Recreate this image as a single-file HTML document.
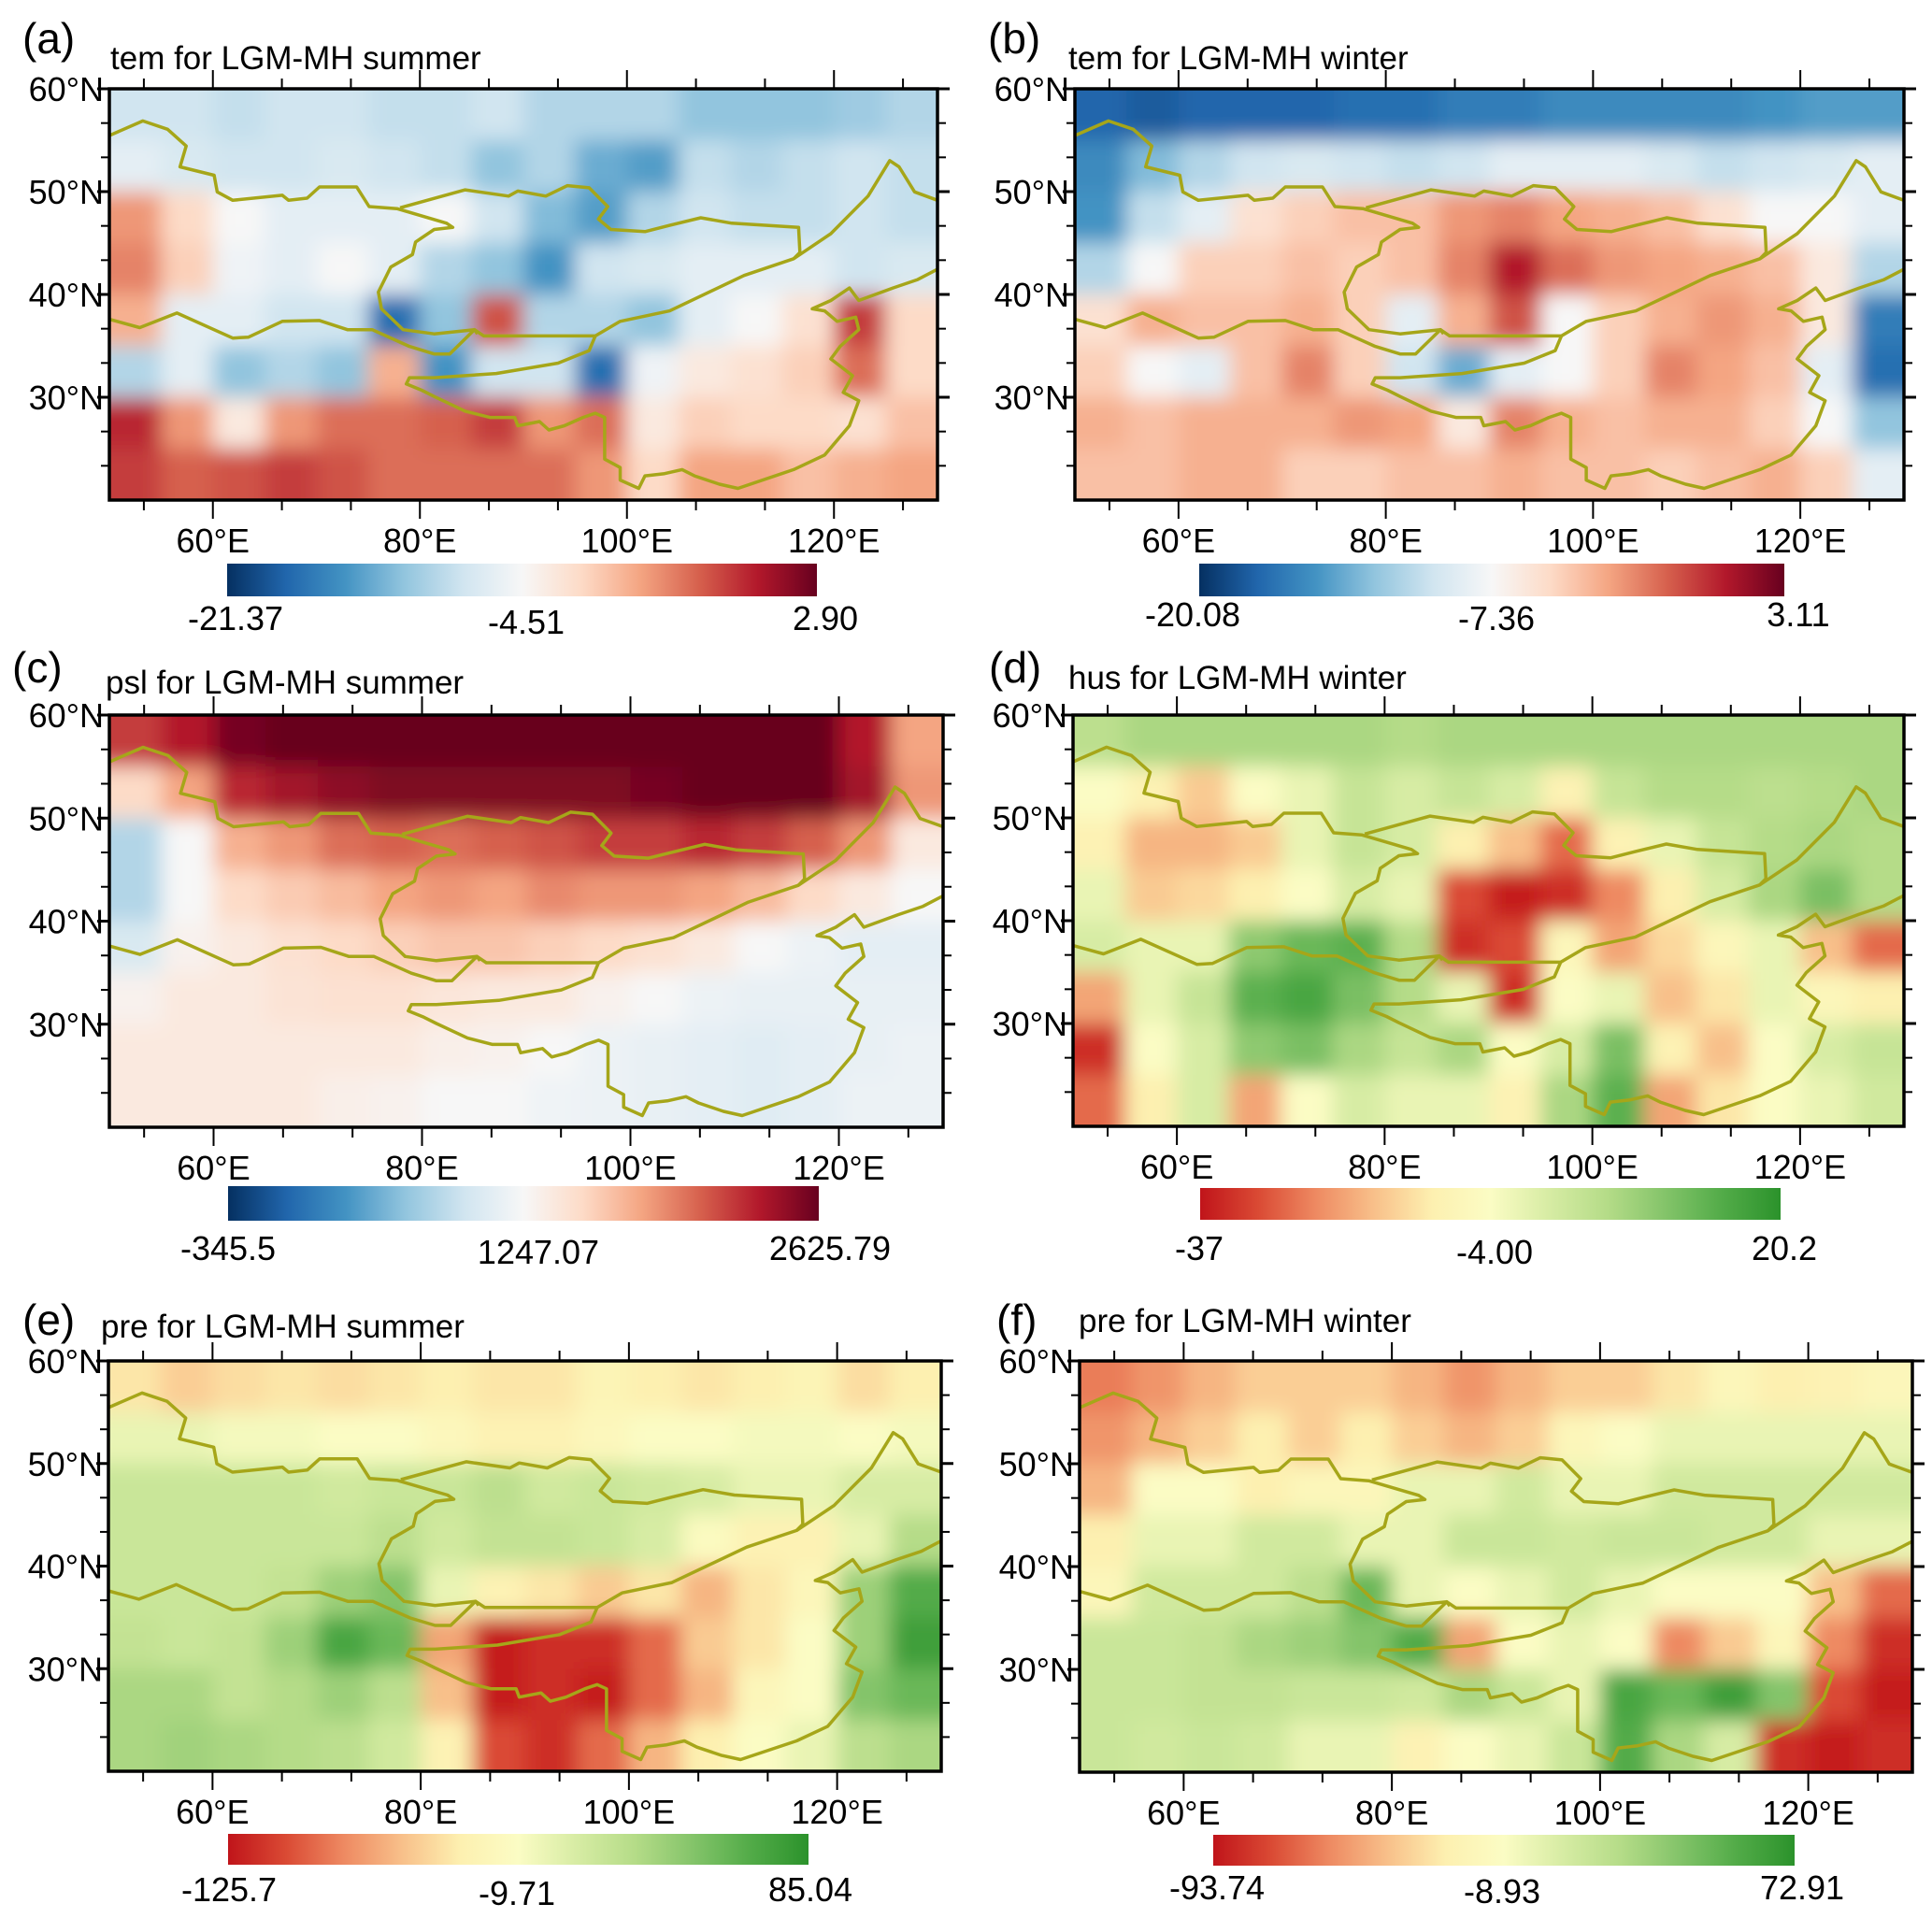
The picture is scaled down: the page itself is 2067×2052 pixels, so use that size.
<!DOCTYPE html>
<html><head><meta charset="utf-8">
<style>
html,body{margin:0;padding:0;background:#fff;}
svg{display:block;font-family:"Liberation Sans",Arial,sans-serif;}
</style></head>
<body>
<svg id="fig" width="2067" height="2052" viewBox="0 0 2067 2052" xmlns="http://www.w3.org/2000/svg">
<defs>
<filter id="blur" x="-10%" y="-10%" width="120%" height="120%"><feGaussianBlur stdDeviation="11"/></filter>
</defs>
</svg>
<script>
// ---- data: gridded anomaly (colormap position 0..1), rows 60N->20N (5° bands), cols 50E->130E (5° bands)
const lonTicks = [60, 80, 100, 120];
const latTicks = [60, 50, 40, 30];
const lonTickLabels = ["60°E", "80°E", "100°E", "120°E"];
const latTickLabels = ["60°N", "50°N", "40°N", "30°N"];

const gridA = [
[0.4,0.4,0.38,0.4,0.4,0.38,0.38,0.4,0.35,0.35,0.35,0.3,0.3,0.3,0.32,0.35],
[0.45,0.42,0.4,0.4,0.42,0.4,0.38,0.3,0.35,0.25,0.22,0.38,0.35,0.38,0.4,0.38],
[0.72,0.6,0.5,0.45,0.45,0.45,0.5,0.4,0.28,0.22,0.35,0.4,0.38,0.38,0.4,0.38],
[0.75,0.62,0.48,0.45,0.5,0.45,0.35,0.3,0.2,0.4,0.42,0.45,0.45,0.45,0.4,0.42],
[0.68,0.45,0.45,0.4,0.4,0.12,0.3,0.82,0.35,0.35,0.3,0.45,0.5,0.58,0.85,0.6],
[0.35,0.45,0.3,0.35,0.3,0.68,0.2,0.4,0.4,0.12,0.48,0.55,0.58,0.62,0.78,0.6],
[0.88,0.72,0.55,0.72,0.78,0.78,0.8,0.85,0.72,0.78,0.55,0.62,0.6,0.6,0.58,0.65],
[0.85,0.8,0.82,0.85,0.82,0.78,0.78,0.78,0.78,0.72,0.6,0.7,0.7,0.65,0.68,0.7]];
const gridB = [
[0.1,0.08,0.1,0.1,0.1,0.12,0.12,0.15,0.15,0.18,0.18,0.18,0.18,0.2,0.22,0.22],
[0.18,0.28,0.35,0.4,0.42,0.4,0.38,0.4,0.45,0.45,0.45,0.42,0.38,0.4,0.42,0.45],
[0.2,0.38,0.45,0.58,0.62,0.65,0.65,0.72,0.75,0.7,0.68,0.65,0.58,0.5,0.5,0.45],
[0.35,0.5,0.62,0.62,0.65,0.62,0.65,0.75,0.9,0.78,0.72,0.7,0.68,0.65,0.55,0.35],
[0.58,0.68,0.65,0.65,0.68,0.62,0.45,0.68,0.82,0.5,0.62,0.68,0.72,0.68,0.55,0.15],
[0.62,0.5,0.45,0.65,0.75,0.62,0.4,0.25,0.45,0.5,0.62,0.75,0.7,0.65,0.45,0.12],
[0.68,0.65,0.68,0.68,0.68,0.72,0.7,0.55,0.75,0.68,0.65,0.68,0.68,0.62,0.5,0.3],
[0.65,0.65,0.68,0.68,0.62,0.62,0.65,0.65,0.68,0.65,0.65,0.62,0.65,0.68,0.62,0.45]];
const gridC = [
[0.85,0.9,0.98,1,1,1,1,1,1,1,1,1,1,1,0.9,0.7],
[0.6,0.7,0.88,0.92,0.95,0.97,0.97,0.97,0.97,0.97,0.98,1,1,1,0.92,0.72],
[0.35,0.5,0.68,0.72,0.78,0.8,0.78,0.8,0.82,0.85,0.85,0.88,0.85,0.8,0.72,0.55],
[0.35,0.5,0.6,0.63,0.66,0.7,0.72,0.7,0.74,0.72,0.72,0.7,0.66,0.6,0.55,0.5],
[0.42,0.52,0.55,0.58,0.6,0.62,0.64,0.64,0.62,0.6,0.58,0.55,0.5,0.47,0.45,0.45],
[0.52,0.55,0.55,0.57,0.58,0.58,0.56,0.55,0.55,0.52,0.5,0.47,0.46,0.46,0.46,0.46],
[0.55,0.55,0.55,0.55,0.55,0.55,0.53,0.52,0.5,0.47,0.46,0.45,0.44,0.45,0.46,0.47],
[0.55,0.55,0.55,0.55,0.53,0.52,0.5,0.5,0.48,0.47,0.46,0.45,0.44,0.45,0.47,0.47]];
const gridD = [
[0.68,0.72,0.72,0.72,0.72,0.72,0.7,0.72,0.72,0.72,0.72,0.72,0.72,0.72,0.72,0.72],
[0.5,0.42,0.32,0.5,0.55,0.65,0.6,0.65,0.6,0.42,0.65,0.7,0.7,0.68,0.7,0.72],
[0.42,0.28,0.28,0.32,0.55,0.65,0.6,0.4,0.3,0.15,0.42,0.55,0.65,0.7,0.72,0.7],
[0.55,0.32,0.35,0.4,0.5,0.6,0.55,0.1,0.02,0.05,0.2,0.4,0.6,0.72,0.82,0.7],
[0.6,0.55,0.55,0.78,0.85,0.88,0.7,0.05,0.1,0.45,0.25,0.35,0.45,0.55,0.3,0.15],
[0.25,0.55,0.65,0.88,0.92,0.82,0.7,0.55,0.05,0.5,0.55,0.3,0.38,0.55,0.45,0.4],
[0.05,0.5,0.6,0.78,0.82,0.72,0.65,0.72,0.5,0.6,0.82,0.42,0.3,0.5,0.6,0.65],
[0.15,0.4,0.6,0.25,0.5,0.6,0.55,0.55,0.42,0.72,0.88,0.25,0.38,0.5,0.55,0.62]];
const gridE = [
[0.38,0.33,0.36,0.38,0.36,0.38,0.4,0.38,0.38,0.43,0.4,0.38,0.4,0.43,0.36,0.4],
[0.55,0.55,0.52,0.52,0.5,0.5,0.46,0.42,0.42,0.46,0.5,0.5,0.52,0.52,0.5,0.52],
[0.64,0.64,0.64,0.64,0.62,0.64,0.64,0.68,0.62,0.64,0.62,0.6,0.55,0.55,0.6,0.6],
[0.64,0.64,0.64,0.64,0.64,0.68,0.62,0.66,0.66,0.64,0.6,0.48,0.42,0.42,0.55,0.7],
[0.64,0.64,0.64,0.66,0.75,0.8,0.55,0.42,0.38,0.32,0.38,0.28,0.38,0.45,0.75,0.9],
[0.66,0.64,0.66,0.75,0.92,0.85,0.25,0.02,0.05,0.05,0.15,0.32,0.38,0.5,0.75,0.95],
[0.72,0.72,0.66,0.7,0.75,0.68,0.3,0.02,0.05,0.02,0.15,0.28,0.45,0.5,0.8,0.85],
[0.72,0.74,0.72,0.7,0.68,0.62,0.42,0.1,0.05,0.15,0.28,0.4,0.5,0.55,0.68,0.72]];
const gridF = [
[0.18,0.22,0.28,0.33,0.33,0.33,0.28,0.22,0.28,0.33,0.33,0.38,0.45,0.4,0.42,0.45],
[0.22,0.28,0.33,0.4,0.33,0.4,0.33,0.28,0.33,0.45,0.5,0.55,0.55,0.55,0.55,0.55],
[0.28,0.5,0.5,0.4,0.45,0.45,0.55,0.55,0.62,0.55,0.55,0.62,0.62,0.62,0.62,0.62],
[0.4,0.55,0.55,0.62,0.62,0.55,0.55,0.64,0.64,0.62,0.64,0.64,0.62,0.62,0.55,0.55],
[0.45,0.62,0.62,0.62,0.68,0.85,0.55,0.5,0.55,0.62,0.55,0.5,0.5,0.5,0.3,0.15],
[0.64,0.64,0.66,0.72,0.75,0.8,0.9,0.25,0.5,0.55,0.5,0.2,0.32,0.45,0.2,0.05],
[0.64,0.64,0.66,0.66,0.64,0.64,0.62,0.72,0.64,0.55,0.92,0.85,0.95,0.8,0.1,0.02],
[0.64,0.62,0.64,0.62,0.55,0.55,0.42,0.5,0.55,0.64,0.9,0.72,0.6,0.05,0.02,0.05]];

const cbarLabelsA = ["-21.37", "-4.51", "2.90"];
const cbarLabelsB = ["-20.08", "-7.36", "3.11"];
const cbarLabelsC = ["-345.5", "1247.07", "2625.79"];
const cbarLabelsD = ["-37", "-4.00", "20.2"];
const cbarLabelsE = ["-125.7", "-9.71", "85.04"];
const cbarLabelsF = ["-93.74", "-8.93", "72.91"];

// ---- colormaps
const RDBU = ["#053061","#2166ac","#4393c3","#92c5de","#d1e5f0","#f7f7f7","#fddbc7","#f4a582","#d6604d","#b2182b","#67001f"];
const RDYLGN = ["#c0141a","#da4a34","#ee8a62","#f8c08a","#fdf0b0","#fbfcc4","#d7eca4","#b5dc88","#84c46a","#52ab48","#2b922b"];
function hex(c){return [parseInt(c.slice(1,3),16),parseInt(c.slice(3,5),16),parseInt(c.slice(5,7),16)];}
function cmap(stops,t){t=Math.max(0,Math.min(1,t));const n=stops.length-1;const i=Math.min(n-1,Math.floor(t*n));const f=t*n-i;
 const a=hex(stops[i]),b=hex(stops[i+1]);return "rgb("+a.map((v,k)=>Math.round(v+(b[k]-v)*f)).join(",")+")";}

// ---- border polylines (traced in zoom coords of panel a frame)
const Z=(x,y)=>[(x-176)/1336,(y-213)/985];
const borders=[
 [[176,325],[230,290],[270,310],[300,350],[290,400],[345,420],[350,460],[375,480],[455,468],[465,480],[495,475],[515,448],[575,448],[595,495],[640,500],[720,535],[730,545],[700,550],[670,580],[665,610],[630,640],[610,700],[615,740],[650,790],[700,800],[765,790],[780,805],[960,805],[1000,770],[1080,745],[1200,660],[1280,620],[1340,560],[1400,470],[1435,385],[1450,400],[1475,460],[1512,480]],
 [[645,498],[750,455],[820,470],[835,458],[880,470],[915,445],[950,450],[980,495],[965,525],[985,550],[1040,555],[1080,540],[1130,522],[1180,535],[1288,545],[1290,605],[1280,620]],
 [[176,765],[225,785],[285,750],[375,810],[400,808],[455,770],[515,768],[560,790],[600,790],[660,830],[700,848],[725,848],[765,790],[770,800]],
 [[960,805],[950,840],[900,870],[800,895],[700,905],[660,905],[655,920],[680,935],[700,950],[750,985],[790,1000],[830,1000],[835,1020],[870,1010],[885,1030],[910,1020],[940,1000],[960,990],[975,1000],[975,1050],[975,1100],[1000,1120],[1000,1150],[1030,1170],[1040,1140],[1070,1135],[1100,1125],[1120,1140],[1160,1160],[1190,1170],[1280,1125],[1330,1090],[1370,1020],[1385,960],[1360,940],[1375,900],[1340,860],[1355,830],[1385,790],[1380,760],[1350,770],[1330,745],[1310,740],[1340,720],[1370,690],[1385,720],[1440,690],[1480,670],[1512,645]]
];

const panels=[
 {id:"a",letter:"(a)",title:"tem for LGM-MH summer",grid:gridA,cm:RDBU,fx:117,fy:95,fw:886,fh:440,lx:24,ly:57,tx:118,ty:74,cb:[243,603,631,35],cbl:cbarLabelsA,cbx:[252,563,883],cby:674},
 {id:"b",letter:"(b)",title:"tem for LGM-MH winter",grid:gridB,cm:RDBU,fx:1150,fy:95,fw:887,fh:440,lx:1057,ly:57,tx:1143,ty:74,cb:[1283,603,626,35],cbl:cbarLabelsB,cbx:[1276,1601,1924],cby:670},
 {id:"c",letter:"(c)",title:"psl for LGM-MH summer",grid:gridC,cm:RDBU,fx:117,fy:765,fw:892,fh:441,lx:13,ly:730,tx:113,ty:742,cb:[244,1269,632,37],cbl:cbarLabelsC,cbx:[244,576,888],cby:1348},
 {id:"d",letter:"(d)",title:"hus for LGM-MH winter",grid:gridD,cm:RDYLGN,fx:1148,fy:765,fw:889,fh:440,lx:1058,ly:730,tx:1143,ty:737,cb:[1284,1271,621,34],cbl:cbarLabelsD,cbx:[1283,1599,1909],cby:1348},
 {id:"e",letter:"(e)",title:"pre for LGM-MH summer",grid:gridE,cm:RDYLGN,fx:116,fy:1456,fw:891,fh:439,lx:24,ly:1428,tx:108,ty:1431,cb:[244,1962,621,33],cbl:cbarLabelsE,cbx:[245,553,867],cby:2034},
 {id:"f",letter:"(f)",title:"pre for LGM-MH winter",grid:gridF,cm:RDYLGN,fx:1155,fy:1456,fw:891,fh:440,lx:1066,ly:1428,tx:1154,ty:1425,cb:[1298,1963,622,33],cbl:cbarLabelsF,cbx:[1302,1607,1928],cby:2032}
];

const NS="http://www.w3.org/2000/svg";
const svg=document.getElementById("fig");
const defs=svg.querySelector("defs");
function mk(tag,attrs,parent){const e=document.createElementNS(NS,tag);for(const k in attrs)e.setAttribute(k,attrs[k]);(parent||svg).appendChild(e);return e;}

panels.forEach(p=>{
 const g=mk("g",{});
 
 
 const xS=lon=>p.fx+(lon-50)/80*p.fw;
 const yS=lat=>p.fy+(60-lat)/40*p.fh;
 const cp=mk("clipPath",{id:"clip"+p.id},defs);
 mk("rect",{x:p.fx,y:p.fy,width:p.fw,height:p.fh},cp);
 const cg=mk("g",{"clip-path":"url(#clip"+p.id+")"},g);
 
 
 const bg=mk("g",{filter:"url(#blur)"},cg);
 const rows=p.grid.length, cols=p.grid[0].length;
 p.grid.forEach((row,r)=>row.forEach((v,c)=>{
   let x0=xS(50+c*5), x1=xS(55+c*5), y0=yS(60-r*5), y1=yS(55-r*5);
   if(c===0)x0-=60; if(c===cols-1)x1+=60; if(r===0)y0-=60; if(r===rows-1)y1+=60;
   const cell=mk("rect",{x:x0,y:y0,width:x1-x0+1,height:y1-y0+1,fill:cmap(p.cm,v)},bg);
   
   
 }));
 borders.forEach(b=>{
   const pts=b.map(([x,y])=>{const f=Z(x,y);return (p.fx+f[0]*p.fw).toFixed(1)+","+(p.fy+f[1]*p.fh).toFixed(1);}).join(" ");
   const pl=mk("polyline",{points:pts,fill:"none",stroke:"#a6a619","stroke-width":3.5,"stroke-linejoin":"round"},cg);
   
   
 });
 const fr=mk("rect",{x:p.fx,y:p.fy,width:p.fw,height:p.fh,fill:"none",stroke:"#000","stroke-width":3.5},g);
 
 
 for(let lon=60-20/3;lon<131;lon+=20/3){
   const x=xS(lon); const major=Math.abs(lon-Math.round(lon/20)*20)<0.01;
   const L=major?20:11;
   mk("line",{x1:x,y1:p.fy,x2:x,y2:p.fy-L,stroke:"#000","stroke-width":2},g);
   mk("line",{x1:x,y1:p.fy+p.fh,x2:x,y2:p.fy+p.fh+L,stroke:"#000","stroke-width":2},g);
 }
 for(let lat=60;lat>20.5;lat-=10/3){
   const y=yS(lat); const major=Math.abs(lat-Math.round(lat/10)*10)<0.01;
   const L=major?13:9;
   mk("line",{x1:p.fx,y1:y,x2:p.fx-L,y2:y,stroke:"#000","stroke-width":major?3:2},g);
   mk("line",{x1:p.fx+p.fw,y1:y,x2:p.fx+p.fw+L,y2:y,stroke:"#000","stroke-width":major?3:2},g);
 }
 lonTicks.forEach((lon,i)=>{
   const t=mk("text",{x:xS(lon),y:p.fy+p.fh+56,"text-anchor":"middle","font-size":36},g);
   t.textContent=lonTickLabels[i];
   
   
 });
 latTicks.forEach((lat,i)=>{
   const t=mk("text",{x:p.fx-6,y:yS(lat)+13,"text-anchor":"end","font-size":36},g);
   t.textContent=latTickLabels[i];
   
   
 });
 const lt=mk("text",{x:p.lx,y:p.ly,"font-size":46},g);
 lt.textContent=p.letter;
 
 
 const tt=mk("text",{x:p.tx,y:p.ty,"font-size":35},g);
 tt.textContent=p.title;
 
 
 const gid="cbg"+p.id;
 const lg=mk("linearGradient",{id:gid,x1:0,x2:1,y1:0,y2:0},defs);
 for(let i=0;i<=20;i++) mk("stop",{offset:i/20,"stop-color":cmap(p.cm,i/20)},lg);
 const cbr=mk("rect",{x:p.cb[0],y:p.cb[1],width:p.cb[2],height:p.cb[3],fill:"url(#"+gid+")"},g);
 
 
 p.cbl.forEach((s,i)=>{
   const t=mk("text",{x:p.cbx[i],y:p.cby+(i===1?4:0),"text-anchor":"middle","font-size":36},g);
   t.textContent=s;
   
   
 });
});
</script>
</body></html>
